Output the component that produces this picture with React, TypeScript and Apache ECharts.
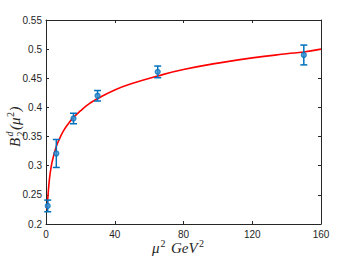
import React, { useEffect, useRef } from "react";
import * as echarts from "echarts";

const muSquared = [1, 6, 16, 30, 65, 150];
const bValues = [0.231, 0.321, 0.381, 0.42, 0.461, 0.49];
const bErrors = [0.01, 0.024, 0.009, 0.009, 0.01, 0.017];

const fitX = [0.7, 1, 2, 3, 4, 6, 8, 10, 13, 16, 20, 25, 30, 40, 50, 65, 80, 100, 120, 140, 150, 160];
const fitY = [0.224, 0.242, 0.277, 0.298, 0.312, 0.333, 0.347, 0.359, 0.372, 0.383, 0.394, 0.406, 0.415, 0.43, 0.441, 0.454, 0.465, 0.476, 0.485, 0.492, 0.495, 0.5];

const X_MIN = 0, X_MAX = 160, X_STEP = 40;
const Y_MIN = 0.2, Y_MAX = 0.55, Y_STEP = 0.05;

const BLUE = "#0072BD";
const AXIS = "#262626";
const SERIF = "'Liberation Serif', 'DejaVu Serif', serif";
const SANS = "'Liberation Sans', Arial, sans-serif";

export default function App() {
  const ref = useRef<HTMLDivElement>(null);
  useEffect(() => {
    if (!ref.current) return;
    const chart = echarts.init(ref.current, null, { renderer: "svg" });
    const axisCommon = {
      axisLine: { show: true, onZero: false, lineStyle: { color: AXIS, width: 1 } },
      axisTick: { show: true, inside: true, length: 3, lineStyle: { color: AXIS, width: 1 } },
      splitLine: { show: false },
    };
    const fmtY = (v: number) => (Math.round(v * 100) / 100).toString();
    chart.setOption({
      animation: false,
      backgroundColor: "#ffffff",
      grid: { left: 46, right: 33, top: 20, bottom: 34 },
      xAxis: [
        {
          type: "value", min: X_MIN, max: X_MAX, interval: X_STEP, position: "bottom",
          ...axisCommon,
          axisLabel: { color: AXIS, fontSize: 10, fontFamily: SANS, margin: 5 },
        },
        {
          type: "value", min: X_MIN, max: X_MAX, interval: X_STEP, position: "top",
          ...axisCommon, axisLabel: { show: false },
        },
      ],
      yAxis: [
        {
          type: "value", min: Y_MIN, max: Y_MAX, interval: Y_STEP, position: "left",
          ...axisCommon,
          axisLabel: { color: AXIS, fontSize: 10, fontFamily: SANS, margin: 4, formatter: fmtY },
        },
        {
          type: "value", min: Y_MIN, max: Y_MAX, interval: Y_STEP, position: "right",
          ...axisCommon, axisLabel: { show: false },
        },
      ],
      series: [
        {
          type: "line",
          data: fitX.map((x, i) => [x, fitY[i]]),
          showSymbol: false,
          smooth: true,
          lineStyle: { color: "#ff0000", width: 1.6 },
          z: 2,
        },
        {
          type: "custom",
          data: muSquared.map((x, i) => [x, bValues[i], bErrors[i]]),
          encode: { x: 0, y: 1 },
          z: 3,
          renderItem: (params: any, api: any) => {
            const x = api.value(0), y = api.value(1), e = api.value(2);
            const top = api.coord([x, y + e]);
            const bot = api.coord([x, y - e]);
            const cap = 3.5;
            const st = { stroke: BLUE, lineWidth: 1.5 };
            return {
              type: "group",
              children: [
                { type: "line", shape: { x1: top[0], y1: top[1], x2: bot[0], y2: bot[1] }, style: st },
                { type: "line", shape: { x1: top[0] - cap, y1: top[1], x2: top[0] + cap, y2: top[1] }, style: st },
                { type: "line", shape: { x1: bot[0] - cap, y1: bot[1], x2: bot[0] + cap, y2: bot[1] }, style: st },
              ],
            };
          },
        },
        {
          type: "scatter",
          data: muSquared.map((x, i) => [x, bValues[i]]),
          symbol: "circle",
          symbolSize: 5,
          itemStyle: { color: "#3d8fcf", borderColor: BLUE, borderWidth: 1.2 },
          z: 4,
        },
      ],
      graphic: [
        {
          type: "group",
          x: 152,
          y: 248,
          children: [
            { type: "text", x: 0, y: 0, style: { text: "μ", font: `italic 15px ${SERIF}`, fill: AXIS, textAlign: "left", textVerticalAlign: "middle" } },
            { type: "text", x: 8.5, y: -5, style: { text: "2", font: `10px ${SERIF}`, fill: AXIS, textAlign: "left", textVerticalAlign: "middle" } },
            { type: "text", x: 19, y: 0, style: { text: "GeV", font: `italic 15px ${SERIF}`, fill: AXIS, textAlign: "left", textVerticalAlign: "middle" } },
            { type: "text", x: 47, y: -5, style: { text: "2", font: `10px ${SERIF}`, fill: AXIS, textAlign: "left", textVerticalAlign: "middle" } },
          ],
        },
        {
          type: "group",
          x: 15,
          y: 124,
          rotation: Math.PI / 2,
          children: [
            { type: "text", x: -23, y: 0, style: { text: "B", font: `italic 15px ${SERIF}`, fill: AXIS, textAlign: "left", textVerticalAlign: "middle" } },
            { type: "text", x: -12.5, y: -5.5, style: { text: "d", font: `italic 10px ${SERIF}`, fill: AXIS, textAlign: "left", textVerticalAlign: "middle" } },
            { type: "text", x: -12.5, y: 5.5, style: { text: "2", font: `10px ${SERIF}`, fill: AXIS, textAlign: "left", textVerticalAlign: "middle" } },
            { type: "text", x: -6, y: 0, style: { text: "(μ", font: `italic 15px ${SERIF}`, fill: AXIS, textAlign: "left", textVerticalAlign: "middle" } },
            { type: "text", x: 7, y: -5, style: { text: "2", font: `10px ${SERIF}`, fill: AXIS, textAlign: "left", textVerticalAlign: "middle" } },
            { type: "text", x: 12.5, y: 0, style: { text: ")", font: `italic 15px ${SERIF}`, fill: AXIS, textAlign: "left", textVerticalAlign: "middle" } },
          ],
        },
      ],
    });
    return () => chart.dispose();
  }, []);
  return <div ref={ref} style={{ position: "fixed", left: 0, top: 0, width: 354, height: 258 }} />;
}
